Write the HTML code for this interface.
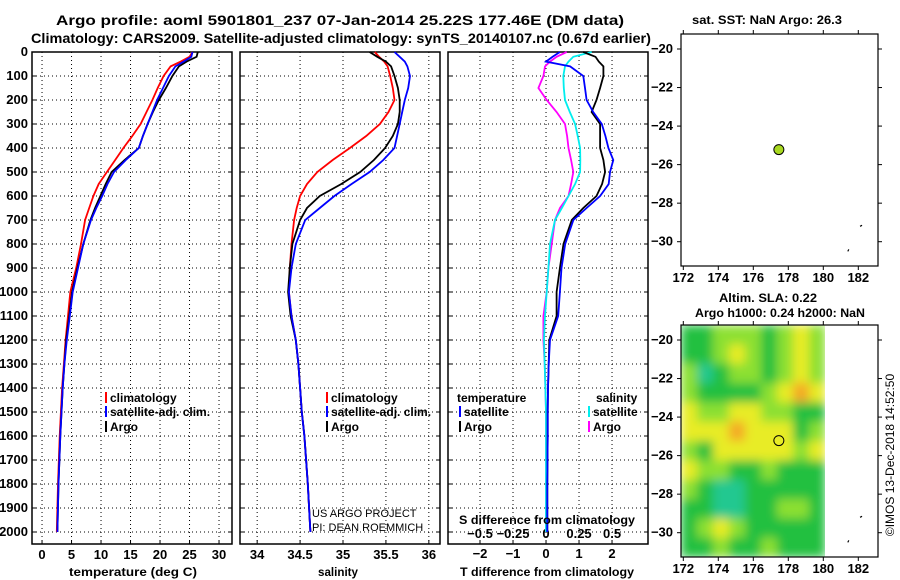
<!DOCTYPE html>
<html><head><meta charset="utf-8"><style>
body{margin:0;background:#fff}
svg{display:block;font-family:"Liberation Sans",sans-serif}
</style></head><body>
<svg id="c" width="900" height="580" viewBox="0 0 900 580" xmlns="http://www.w3.org/2000/svg">
<defs>
<filter id="bl" x="0" y="0" width="1" height="1"><feGaussianBlur stdDeviation="5" edgeMode="duplicate"/></filter>
<clipPath id="hc"><rect x="681" y="325" width="144" height="232"/></clipPath>
</defs>
<text x="340" y="25" text-anchor="middle" font-size="14" font-weight="bold" textLength="568" lengthAdjust="spacingAndGlyphs">Argo profile: aoml 5901801_237 07-Jan-2014 25.22S 177.46E (DM data)</text>
<text x="341" y="43" text-anchor="middle" font-size="14" font-weight="bold" textLength="620" lengthAdjust="spacingAndGlyphs">Climatology: CARS2009. Satellite-adjusted climatology: synTS_20140107.nc (0.67d earlier)</text>
</svg>
<script>
const depths=[0,20,40,60,100,150,200,250,300,350,400,450,500,550,600,650,700,800,900,1000,1100,1200,1300,1400,1500,1600,1800,2000];
const tempArgo=[26.4,26.2,24.5,23.2,22.1,21.0,19.8,18.8,17.9,17.1,16.4,14.0,11.8,10.8,9.9,9.0,8.2,7.0,6.0,5.1,4.6,4.1,3.8,3.5,3.3,3.1,2.8,2.6];
const tempClim=[25.5,25.0,23.5,21.8,20.6,19.6,18.7,17.7,16.7,15.3,13.8,12.4,11.0,9.6,8.7,8.0,7.3,6.6,5.8,4.8,4.4,4.0,3.7,3.4,3.2,3.0,2.7,2.5];
const tempSat=[25.5,25.3,24.0,22.6,21.5,20.5,19.5,18.7,17.9,17.1,16.4,14.2,12.2,11.1,10.2,9.2,8.3,7.0,6.1,5.2,4.7,4.2,3.8,3.5,3.3,3.1,2.8,2.6];
const salArgo=[35.31,35.40,35.50,35.56,35.60,35.64,35.66,35.66,35.64,35.58,35.49,35.36,35.20,34.98,34.73,34.58,34.50,34.41,34.38,34.36,34.39,34.45,34.48,34.50,34.52,34.55,34.59,34.62];
const salClim=[35.37,35.42,35.48,35.52,35.55,35.58,35.60,35.53,35.43,35.27,35.08,34.88,34.70,34.58,34.50,34.46,34.43,34.40,34.38,34.37,34.40,34.45,34.48,34.50,34.52,34.55,34.59,34.62];
const salSat=[35.60,35.66,35.72,35.75,35.78,35.76,35.72,35.69,35.66,35.63,35.60,35.47,35.31,35.10,34.90,34.73,34.56,34.45,34.40,34.37,34.40,34.45,34.48,34.50,34.52,34.55,34.59,34.62];
const dTArgo=[1.13,1.5,1.6,1.74,1.74,1.64,1.53,1.38,1.64,1.64,1.64,1.74,1.79,1.7,1.53,1.13,0.78,0.53,0.42,0.32,0.32,0.1,0.08,0.06,0.05,0.05,0.04,0.04];
const dTSat=[0.42,0.2,0.0,0.73,1.13,1.18,1.23,1.43,1.69,1.8,1.89,2.04,1.94,1.9,1.64,1.23,0.83,0.58,0.47,0.42,0.37,0.12,0.08,0.06,0.05,0.05,0.04,0.04];
const dSArgo=[0.157,0.08,0.03,-0.008,-0.02,-0.058,0.005,0.08,0.144,0.16,0.17,0.19,0.207,0.19,0.17,0.106,0.068,0.043,0.018,0.005,-0.02,-0.02,-0.01,-0.005,0.0,0.0,0.0,0.0];
const dSSat=[0.346,0.207,0.17,0.144,0.131,0.135,0.144,0.18,0.22,0.24,0.258,0.26,0.258,0.22,0.17,0.12,0.068,0.03,0.018,0.005,-0.008,-0.015,-0.01,-0.005,0.0,0.0,0.0,0.0];
const tTicks=[0,5,10,15,20,25,30];
const sTicks=[34,34.5,35,35.5,36];
const dTicksT=[-2,-1,0,1,2];
const dTicksS=[-0.5,-0.25,0,0.25,0.5];
const depthTicks=[0,100,200,300,400,500,600,700,800,900,1000,1100,1200,1300,1400,1500,1600,1700,1800,1900,2000];
const lonTicks=[172,174,176,178,180,182];
const latTicks=[-20,-22,-24,-26,-28,-30];
const floatLon=[177.46];
const floatLat=[-25.22];
const slaGrid=[
[1,1,2,2,2,1,2,3,2],[1,1,2,3,2,1,2,3,2],[2,0,1,2,2,1,2,3,2],[2,1,1,1,1,2,3,4,3],
[3,2,2,3,3,2,2,1,1],[3,3,3,4,3,3,3,1,2],[2,1,3,3,3,3,3,2,3],[3,2,2,1,1,2,1,1,1],
[2,1,0,0,1,1,1,1,1],[1,1,0,0,1,1,2,2,1],[1,2,3,2,1,1,1,1,1],[1,1,2,1,1,2,1,1,1]];
const slaColors=['#20c890','#20c040','#8ce030','#e8ec28','#f4a828'];

const svg=document.getElementById('c');
const NS='http://www.w3.org/2000/svg';
function mk(tag,attrs,parent){const e=document.createElementNS(NS,tag);for(const k in attrs)e.setAttribute(k,attrs[k]);(parent||svg).appendChild(e);return e;}
function txt(x,y,s,attrs,parent){const e=mk('text',Object.assign({x:x,y:y,'font-size':12,'font-weight':'bold'},attrs||{}),parent);e.textContent=s;return e;}
const Y0=52,Y1=544;
const yD=d=>Y0+d*0.24;
const panels=[{x0:32,x1:232,min:-1.7,max:32.2},{x0:240,x1:440,min:33.8,max:36.13},{x0:448,x1:648,min:-2.97,max:3.09}];
const xf=(p,v)=>p.x0+(v-p.min)/(p.max-p.min)*(p.x1-p.x0);
const sPanel={x0:448,x1:648,min:-2.97/4,max:3.09/4};

panels.forEach((p,i)=>{
  const g=mk('g',{});
  
  
  depthTicks.forEach(d=>{
    if(d>0) mk('line',{x1:p.x0,x2:p.x1,y1:yD(d),y2:yD(d),stroke:'#000','stroke-dasharray':'1,3','stroke-width':1},g);
    mk('line',{x1:p.x0,x2:p.x0+4,y1:yD(d),y2:yD(d),stroke:'#000'},g);
    mk('line',{x1:p.x1,x2:p.x1-4,y1:yD(d),y2:yD(d),stroke:'#000'},g);
  });
  const ticks=i==0?tTicks:i==1?sTicks:dTicksT;
  ticks.forEach(t=>{const x=xf(p,t);
    mk('line',{x1:x,x2:x,y1:Y0,y2:Y1,stroke:'#000','stroke-dasharray':'1,3'},g);
    mk('line',{x1:x,x2:x,y1:Y1,y2:Y1-4,stroke:'#000'},g);
    const l=txt(x,i==2?558:559,i==2&&t<0?'\u2212'+(-t):String(t),{'text-anchor':'middle','font-size':13},g);
    
    
  });
  mk('rect',{x:p.x0,y:Y0,width:p.x1-p.x0,height:Y1-Y0,fill:'none',stroke:'#000','stroke-width':1.5},g);
});
depthTicks.forEach(d=>{const l=txt(28,yD(d)+4,String(d),{'text-anchor':'end','font-size':13});
  
  });
dTicksS.forEach(t=>{const x=xf(sPanel,t);const l=txt(x,538,t<0?'\u2212'+(-t):String(t),{'text-anchor':'middle','font-size':13});
  
  });

function line(p,vals,color,name){
  const pts=depths.map((d,k)=>xf(p,vals[k]).toFixed(1)+','+yD(d).toFixed(1)).join(' ');
  const e=mk('polyline',{points:pts,fill:'none',stroke:color,'stroke-width':1.8});
  
  
}
line(panels[0],tempClim,'#ff0000','temp-climatology-line');
line(panels[0],tempArgo,'#000000','temp-argo-line');
line(panels[0],tempSat,'#0000ff','temp-satellite-line');
line(panels[1],salClim,'#ff0000','sal-climatology-line');
line(panels[1],salArgo,'#000000','sal-argo-line');
line(panels[1],salSat,'#0000ff','sal-satellite-line');
line(sPanel,dSArgo,'#ff00ff','sdiff-argo-line');
line(sPanel,dSSat,'#00eeee','sdiff-satellite-line');
line(panels[2],dTArgo,'#000000','tdiff-argo-line');
line(panels[2],dTSat,'#0000ff','tdiff-satellite-line');

function leg(x,y,color,label,name){
  const g=mk('g',{});
  
  
  if(color) mk('line',{x1:x,x2:x,y1:y-10,y2:y+1,stroke:color,'stroke-width':2},g);
  txt(x+(color?4:0),y,label,{},g);
}
leg(106,402,'#ff0000','climatology','legend-climatology');
leg(106,416,'#0000ff','satellite-adj. clim.','legend-satellite');
leg(106,431,'#000000','Argo','legend-argo');
leg(327,402,'#ff0000','climatology','legend-sal-climatology');
leg(327,416,'#0000ff','satellite-adj. clim.','legend-sal-satellite');
leg(327,431,'#000000','Argo','legend-sal-argo');
leg(457,402,null,'temperature','legend-temperature-header');
leg(460,416,'#0000ff','satellite','legend-t-satellite');
leg(460,431,'#000000','Argo','legend-t-argo');
leg(596,402,null,'salinity','legend-salinity-header');
leg(589,416,'#00eeee','satellite','legend-s-satellite');
leg(589,431,'#ff00ff','Argo','legend-s-argo');

[['temperature (deg C)',133,576,'x-axis-title-temp',128],['salinity',338,576,'x-axis-title-sal',40],['T difference from climatology',547,576,'x-axis-title-tdiff',174],['S difference from climatology',547,524,'x-axis-title-sdiff',176]].forEach(a=>{
  const e=txt(a[1],a[2],a[0],{'text-anchor':'middle',textLength:a[4],lengthAdjust:'spacingAndGlyphs'});
  
  
});
let e1=txt(312,517,'US ARGO PROJECT',{'font-weight':'normal','font-size':11});


let e2=txt(312,531,'PI: DEAN ROEMMICH',{'font-weight':'normal','font-size':11});



const maps=[{y0:34,y1:266,name:'sst-map'},{y0:325,y1:557,name:'sla-map'}];
const MX0=681,MX1=878;
const lonX=l=>683.3+(l-172)*17.5;
maps.forEach((m,i)=>{
  const latY=l=>m.y0+15+(-20-l)*19.27;
  const g=mk('g',{});
  
  
  if(i==1){
    const hg=mk('g',{'clip-path':'url(#hc)'},g);
    const hb=mk('g',{filter:'url(#bl)'},hg);
    slaGrid.forEach((row,r)=>row.forEach((v,c)=>{
      const cell=mk('rect',{x:681+c*16,y:325+r*232/12,width:16.5,height:232/12+0.5,fill:slaColors[v]},hb);
      
      
    }));
  }
  latTicks.forEach(l=>{const y=latY(l);
    mk('line',{x1:MX0-4,x2:MX0,y1:y,y2:y,stroke:'#000'},g);
    mk('line',{x1:MX1,x2:MX1+4,y1:y,y2:y,stroke:'#000'},g);
    txt(673,y+4,'\u2212'+(-l),{'text-anchor':'end','font-size':13},g);
  });
  lonTicks.forEach(l=>{const x=lonX(l);
    mk('line',{x1:x,x2:x,y1:m.y0,y2:m.y0-4,stroke:'#000'},g);
    mk('line',{x1:x,x2:x,y1:m.y1,y2:m.y1+4,stroke:'#000'},g);
    txt(x,m.y1+16,String(l),{'text-anchor':'middle','font-size':13},g);
  });
  mk('rect',{x:MX0,y:m.y0,width:MX1-MX0,height:m.y1-m.y0,fill:'none',stroke:'#000','stroke-width':1.2},g);
  mk('path',{d:`M${lonX(181.4)},${latY(-30.5)} l1,-2 M${lonX(182.1)},${latY(-29.2)} l2,-1`,stroke:'#000','stroke-width':1.2,fill:'none'},g);
  const c=mk('circle',{cx:lonX(floatLon[0]),cy:latY(floatLat[0]),r:5,fill:i==0?'#a8d820':'none',stroke:'#000','stroke-width':1},g);
  
  
});
[['sat. SST: NaN Argo: 26.3',767,24,'sst-map-title',150],['Altim. SLA: 0.22',768,302,'sla-map-title',98],['Argo h1000: 0.24 h2000: NaN',780,317,'sla-map-subtitle',170]].forEach(a=>{
  const e=txt(a[1],a[2],a[0],{'text-anchor':'middle',textLength:a[4],lengthAdjust:'spacingAndGlyphs'});
  
  
});
const cr=txt(0,0,'\u00A9IMOS 13-Dec-2018 14:52:50',{'text-anchor':'middle','font-weight':'normal','font-size':12,transform:'translate(894,455) rotate(-90)'});


</script>
</body></html>
